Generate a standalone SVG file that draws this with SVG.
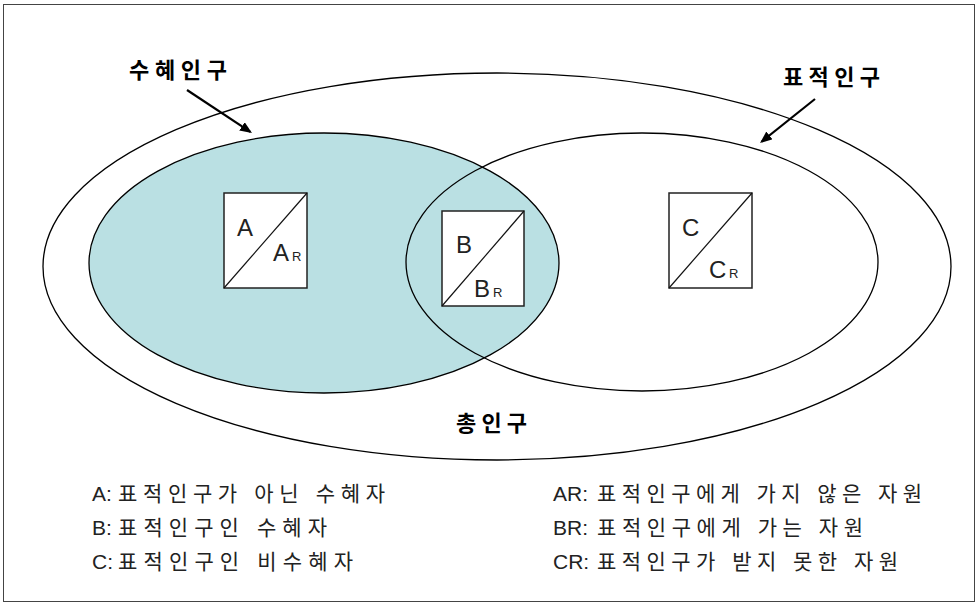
<svg xmlns="http://www.w3.org/2000/svg" width="977" height="606" viewBox="0 0 977 606">
<style>
.frame{fill:#fff;stroke:#444;stroke-width:1}
.ell{stroke:#000;stroke-width:1.3}
.box{fill:#fff;stroke:#222;stroke-width:1.5}
.diag{stroke:#111;stroke-width:1.2}
.title{font-family:"Noto Sans CJK KR","Noto Sans",sans-serif;font-weight:bold;font-size:22px;fill:#000}
.lbl{font-family:"Liberation Sans",Arial,sans-serif;font-size:24px;fill:#222}
.sub{font-family:"Liberation Sans",Arial,sans-serif;font-size:13px;fill:#222}
.leg{font-family:"Liberation Sans","Noto Sans CJK KR",sans-serif;font-size:21px;fill:#222}
.lat{font-family:"Liberation Sans",Arial,sans-serif;font-size:21px;fill:#222}
.arr{stroke:#000;stroke-width:2.2;fill:none}
</style>
<defs>
<marker id="ah" markerUnits="userSpaceOnUse" markerWidth="13" markerHeight="11" refX="10" refY="5" orient="auto">
<path d="M0,0 L12,5 L0,10 Z" fill="#000"/>
</marker>
</defs>
<rect class="frame" x="3.5" y="4.5" width="971" height="597"/>
<g id="total-population">
<ellipse class="ell" cx="497" cy="266.5" rx="454" ry="193.5" fill="#fff"/>
<text class="title" x="456" y="431" textLength="71" lengthAdjust="spacing">총인구</text>
</g>
<g id="beneficiary-population">
<ellipse class="ell" cx="324" cy="263" rx="235" ry="130" fill="#BAE0E3"/>
<text class="title" x="129" y="78" textLength="98" lengthAdjust="spacing">수혜인구</text>
</g>
<g id="target-population">
<ellipse class="ell" cx="642" cy="262" rx="236" ry="129" fill="none"/>
<text class="title" x="783" y="85" textLength="97" lengthAdjust="spacing">표적인구</text>
</g>
<g id="connectors">
<line class="arr" x1="187" y1="90" x2="250.3" y2="131.9" marker-end="url(#ah)"/>
<line class="arr" x1="815" y1="99" x2="761.6" y2="141.75" marker-end="url(#ah)"/>
</g>
<g id="box-A">
<rect class="box" x="224" y="193" width="83" height="95"/>
<line class="diag" x1="224" y1="288" x2="307" y2="193"/>
<text class="lbl" x="237" y="236">A</text>
<text class="lbl" x="273" y="261">A</text>
<text class="sub" x="292" y="261">R</text>
</g>
<g id="box-B">
<rect class="box" x="442" y="211" width="82" height="95"/>
<line class="diag" x1="442" y1="306" x2="524" y2="211"/>
<text class="lbl" x="456" y="253">B</text>
<text class="lbl" x="474" y="297">B</text>
<text class="sub" x="493" y="297">R</text>
</g>
<g id="box-C">
<rect class="box" x="669" y="193" width="83" height="95"/>
<line class="diag" x1="669" y1="288" x2="752" y2="193"/>
<text class="lbl" x="682" y="236">C</text>
<text class="lbl" x="709" y="278">C</text>
<text class="sub" x="729" y="278">R</text>
</g>
<g id="legend">
<text class="lat" x="92" y="501">A:</text>
<text class="leg" x="118" y="501" textLength="267" lengthAdjust="spacing">표적인구가 아닌 수혜자</text>
<text class="lat" x="92" y="535">B:</text>
<text class="leg" x="118" y="535" textLength="209" lengthAdjust="spacing">표적인구인 수혜자</text>
<text class="lat" x="92" y="569">C:</text>
<text class="leg" x="118" y="569" textLength="235" lengthAdjust="spacing">표적인구인 비수혜자</text>
<text class="lat" x="553" y="501">AR:</text>
<text class="leg" x="597" y="501" textLength="325" lengthAdjust="spacing">표적인구에게 가지 않은 자원</text>
<text class="lat" x="553" y="535">BR:</text>
<text class="leg" x="597" y="535" textLength="266" lengthAdjust="spacing">표적인구에게 가는 자원</text>
<text class="lat" x="553" y="569">CR:</text>
<text class="leg" x="597" y="569" textLength="301" lengthAdjust="spacing">표적인구가 받지 못한 자원</text>
</g>
</svg>
